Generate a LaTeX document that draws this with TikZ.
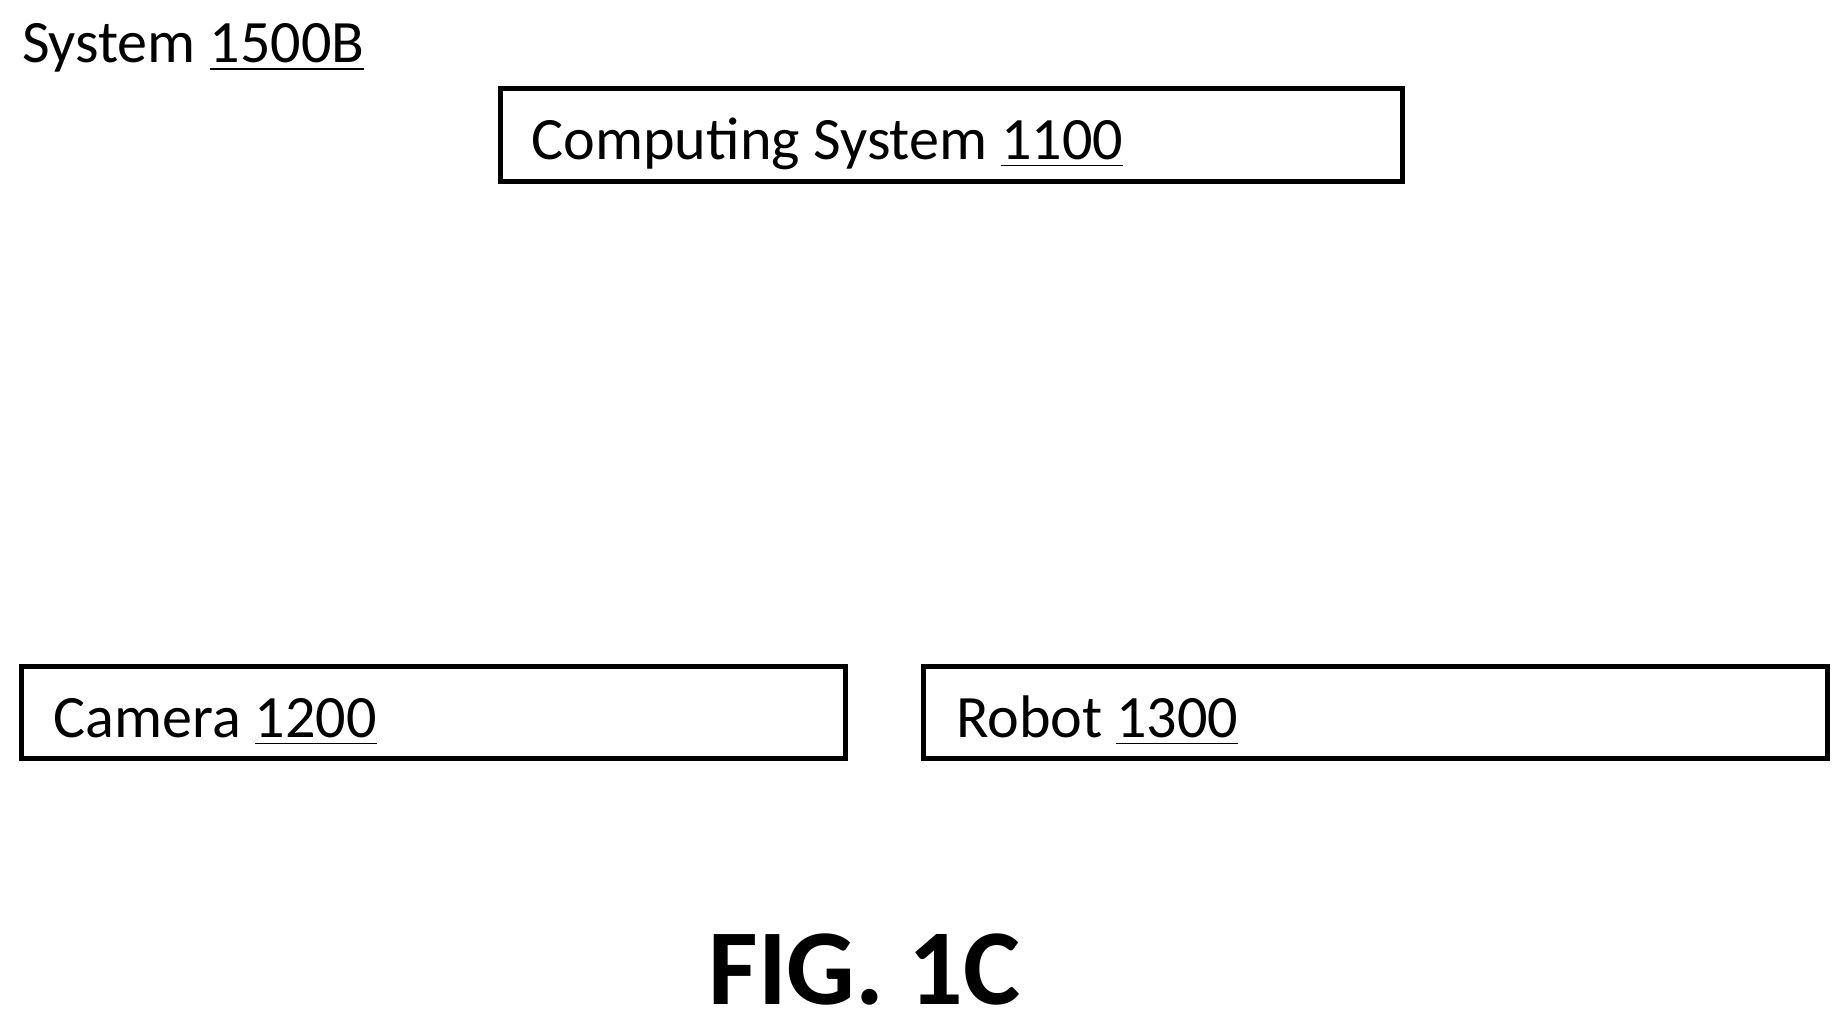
\documentclass[tikz,border=0pt]{standalone}
\usepackage{fontspec}
\setmainfont{Carlito}
\usetikzlibrary{positioning}
\begin{document}
\begin{tikzpicture}[x=0.01cm, y=-0.01cm, font=\fontsize{14.5}{17}\selectfont]
    \useasboundingbox (0,0) rectangle (1560,871);
    \tikzset{blk/.style={draw, line width=1.2pt},
             lbl/.style={anchor=base west, inner sep=0pt}}
    \node[lbl] (sys) at (18,53) {System \underline{1500B}};
    \draw[blk] (424,75) rectangle (1189,154);
    \node[lbl] (cstxt) at (450,135) {Computing System \underline{1100}};
    \draw[blk] (18,565) rectangle (717,643);
    \node[lbl] (camtxt) at (45,625) {Camera \underline{1200}};
    \draw[blk] (783,565) rectangle (1549,643);
    \node[lbl] (robtxt) at (810,625) {Robot \underline{1300}};
    \node[anchor=base, inner sep=0pt, font=\fontsize{26}{30}\selectfont\bfseries] (fig) at (733,852) {FIG. 1C};
\end{tikzpicture}
\end{document}
